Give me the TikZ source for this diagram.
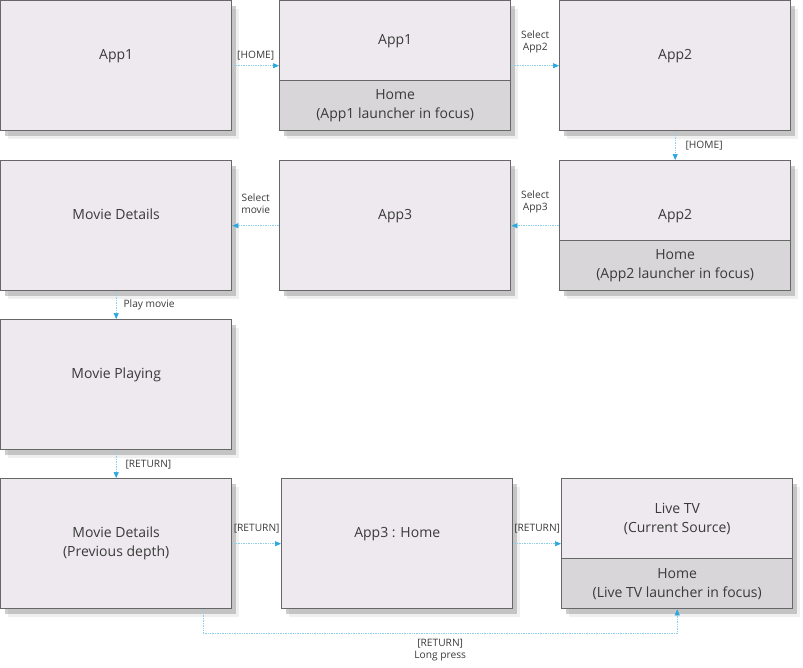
\documentclass[tikz,border=0pt]{standalone}
\usepackage{fontspec}
\setmainfont{Open Sans}
\usetikzlibrary{arrows.meta, shadows, positioning}
\definecolor{screenfill}{HTML}{EDE9EE}
\definecolor{homefill}{HTML}{D9D6D9}
\definecolor{frame}{HTML}{676767}
\definecolor{flowline}{HTML}{8ECFEA}
\definecolor{flowtip}{HTML}{2AA7DE}
\definecolor{txt}{HTML}{3A3A3A}

\begin{document}
\begin{tikzpicture}[x=1pt, y=-1pt,
  screen/.style={draw=frame, line width=1.4pt, fill=screenfill, anchor=north west,
    minimum width=231pt, minimum height=130pt, inner sep=0pt, align=center, text=txt,
    font=\fontsize{14}{19}\selectfont,
    drop shadow={shadow xshift=7pt, shadow yshift=-8pt, opacity=.12, fill=black!50},
    drop shadow={shadow xshift=4pt, shadow yshift=-5pt, opacity=.35, fill=black!55}},
  raised/.style={text depth=23pt},
  lowered/.style={text height=40pt},
  upper/.style={screen, minimum height=80pt},
  lower/.style={screen, fill=homefill, minimum height=50pt},
  flow/.style={draw=flowline, densely dotted, line width=0.7pt,
    -{Triangle[length=6pt, width=5pt, color=flowtip]}},
  lbl/.style={font=\fontsize{10.2}{12}\selectfont, text=txt, align=center, inner sep=2pt}]

\useasboundingbox (0,0) rectangle (803,667);

% row 1
\node[screen, raised] (appOne) at (0,0) {App1};
\node[upper] (homeOneTop) at (279,0) {App1};
\node[lower] (homeOneBot) at (279,80) {Home\\(App1 launcher in focus)};
\node[screen, raised] (appTwo) at (559,0) {App2};

% row 2
\node[screen, raised] (movieDetails) at (0,160) {Movie Details};
\node[screen, raised] (appThree) at (279,160) {App3};
\node[upper, lowered] (homeTwoTop) at (559,160) {App2};
\node[lower] (homeTwoBot) at (559,240) {Home\\(App2 launcher in focus)};

% row 3
\node[screen, raised] (moviePlaying) at (0,319) {Movie Playing};

% row 4
\node[screen] (movieBack) at (0,478) {Movie Details\\(Previous depth)};
\node[screen, raised] (appThreeHome) at (281,478) {App3 : Home};
\node[upper] (liveTop) at (561,478) {Live TV\\(Current Source)};
\node[lower] (liveBot) at (561,558) {Home\\(Live TV launcher in focus)};

% flows
\draw[flow] (appOne.east) -- (appOne.east -| homeOneTop.west)
  node[midway, above=3pt, lbl] (lblHomeA) {[HOME]};
\draw[flow] (appTwo.west -| homeOneTop.east) -- (appTwo.west)
  node[midway, above=10pt, lbl] (lblSelTwo) {Select\\App2};
\draw[flow] (appTwo.south) -- (homeTwoTop.north)
  node[midway, right=8pt, lbl] (lblHomeB) {[HOME]};
\draw[flow] (homeTwoTop.west |- appThree.west) -- (appThree.east)
  node[midway, above=10pt, lbl] (lblSelThree) {Select\\App3};
\draw[flow] (appThree.west) -- (movieDetails.east)
  node[midway, above=10pt, lbl] (lblSelMovie) {Select\\movie};
\draw[flow] (movieDetails.south) -- (moviePlaying.north)
  node[midway, right=5pt, lbl] (lblPlay) {Play movie};
\draw[flow] (moviePlaying.south) -- (movieBack.north)
  node[midway, right=7pt, lbl] (lblRetA) {[RETURN]};
\draw[flow] (movieBack.east) -- (appThreeHome.west)
  node[midway, above=8pt, lbl] (lblRetB) {[RETURN]};
\draw[flow] (appThreeHome.east) -- (appThreeHome.east -| liveTop.west)
  node[midway, above=8pt, lbl] (lblRetC) {[RETURN]};

%long press
\coordinate (lpStart) at ([xshift=87pt]movieBack.south);
\draw[flow] (lpStart) -- ++(0,24) -| (liveBot.south)
  node[pos=.25, below=3pt, lbl] (lblLong) {[RETURN]\\Long press};

\end{tikzpicture}
\end{document}
